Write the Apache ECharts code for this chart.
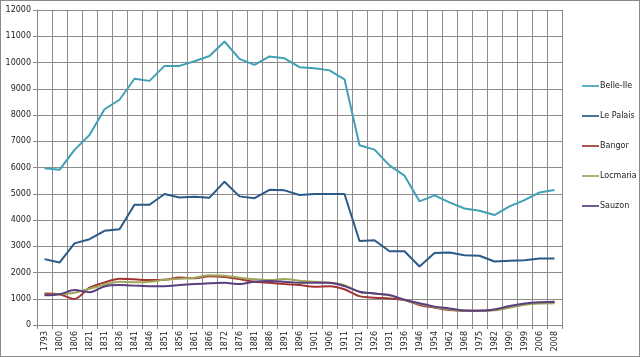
<!DOCTYPE html>
<html><head><meta charset="utf-8">
<script src="https://cdn.jsdelivr.net/npm/echarts@6/dist/echarts.min.js"></script>
<style>html,body{margin:0;padding:0;background:#fff}#c{width:640px;height:357px;box-sizing:border-box;border:1px solid #8a8a8a}</style>
</head><body><div id="c"></div>
<script>
const years = ['1793','1800','1806','1821','1831','1836','1841','1846','1851','1856','1861','1866','1872','1876','1881','1886','1891','1896','1901','1906','1911','1921','1926','1931','1936','1946','1954','1962','1968','1975','1982','1990','1999','2006','2008'];
const belleIle = [5975,5910,6670,7240,8220,8580,9380,9300,9870,9870,10050,10250,10800,10140,9910,10230,10160,9820,9780,9700,9360,6850,6680,6080,5690,4710,4940,4670,4440,4350,4190,4520,4760,5050,5140];
const lePalais = [2510,2380,3110,3270,3590,3650,4580,4580,4990,4860,4890,4850,5460,4900,4830,5150,5130,4950,4990,4990,4990,3200,3230,2810,2810,2230,2740,2760,2660,2640,2420,2450,2470,2530,2530];
const bangor = [1200,1170,990,1420,1620,1760,1740,1710,1720,1810,1780,1860,1830,1750,1650,1610,1560,1520,1460,1480,1360,1100,1040,1010,950,760,660,570,540,540,580,680,790,850,870];
const locmaria = [1150,1170,1230,1380,1530,1650,1630,1650,1720,1760,1800,1900,1880,1800,1740,1710,1750,1690,1650,1610,1520,1260,1200,1130,950,800,680,600,540,540,560,660,770,820,830];
const sauzon = [1130,1170,1330,1250,1470,1520,1500,1480,1480,1520,1560,1590,1610,1560,1650,1680,1650,1610,1610,1610,1480,1270,1200,1140,960,830,700,630,550,540,590,720,820,870,890];
const yTicks = {min:0, max:12000, interval:1000};
const names = ['Belle-Ile','Le Palais','Bangor','Locmaria','Sauzon'];
const colors = ['#3fa0b6','#2a5a88','#a23432','#a0a65a','#5a3f80'];
const datasets = [belleIle, lePalais, bangor, locmaria, sauzon];
const font = 'DejaVu Sans';
const chart = echarts.init(document.getElementById('c'));
chart.setOption({
  animation:false,
  color: colors,
  grid:{left:36, top:9, width:525, height:315, containLabel:false},
  legend:{
    orient:'vertical', left:576, top:76, itemGap:22, itemWidth:17, itemHeight:12,
    icon:'path://M0,5L20,5L20,7L0,7Z',
    textStyle:{fontFamily:font, fontSize:8, color:'#222', padding:[0,0,0,-4]},
    data:names
  },
  xAxis:{
    type:'category', data:years, boundaryGap:true,
    axisLine:{lineStyle:{color:'#888', width:1}},
    axisTick:{show:true, length:4, lineStyle:{color:'#888'}},
    splitLine:{show:true, lineStyle:{color:'#8c8c8c', width:1}},
    axisLabel:{rotate:90, fontFamily:font, fontSize:8, color:'#222', margin:6, interval:0}
  },
  yAxis:{
    type:'value', min:yTicks.min, max:yTicks.max, interval:yTicks.interval,
    axisLine:{show:true, lineStyle:{color:'#888'}},
    axisTick:{show:true, length:4, lineStyle:{color:'#888'}},
    splitLine:{show:true, lineStyle:{color:'#8c8c8c', width:1}},
    axisLabel:{fontFamily:font, fontSize:8, color:'#222', margin:6, formatter:v=>String(v)}
  },
  series: names.map((n,i)=>({
    name:n, type:'line', data:datasets[i], showSymbol:false, symbol:'none',
    smooth: i>=2 ? 0.3 : false,
    lineStyle:{width:2, color:colors[i]}
  }))
});
</script></body></html>
